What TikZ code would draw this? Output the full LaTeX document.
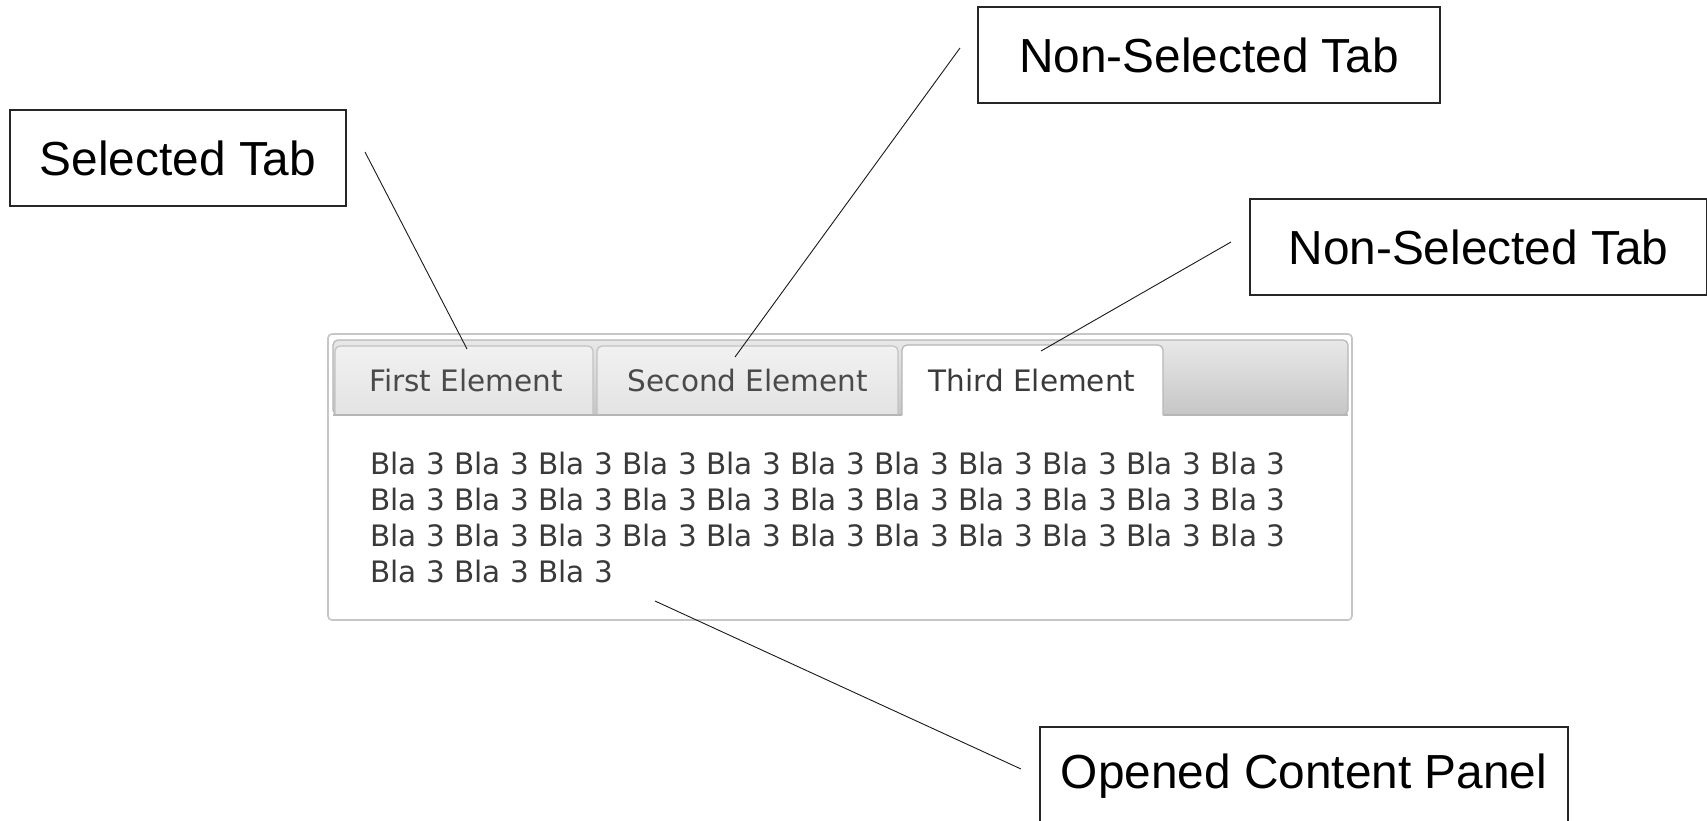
\documentclass[tikz,border=0pt]{standalone}
\usepackage{fontspec}
\setmainfont{Liberation Sans}
\newfontfamily\uifont{DejaVu Sans}
\definecolor{paneledge}{HTML}{C6C6C6}
\definecolor{bartop}{HTML}{E8E8E8}
\definecolor{barbot}{HTML}{C6C6C6}
\definecolor{baredge}{HTML}{B6B6B6}
\definecolor{tabtop}{HTML}{F1F1F1}
\definecolor{tabbot}{HTML}{E3E3E3}
\definecolor{tabedge}{HTML}{C2C2C2}
\definecolor{tabgray}{HTML}{4A4A4A}
\definecolor{bodygray}{HTML}{3A3A3A}
\begin{document}
\begin{tikzpicture}[x=1pt,y=-1pt,
  callout/.style={draw=black!85, line width=1.1pt, inner sep=0pt, font=\fontsize{47.8}{56}\selectfont, text=black},
  leader/.style={draw=black!90, line width=0.9pt},
  tabtext/.style={font=\uifont\fontsize{29.5}{36}\selectfont, text=tabgray, inner sep=0pt, anchor=base},
  bodytext/.style={font=\uifont\fontsize{29.5}{36}\selectfont, text=bodygray, inner sep=0pt, anchor=base west}]
\useasboundingbox (0,0) rectangle (1707,821);

% callout boxes
\node[callout, minimum width=336pt, minimum height=96pt] (sel) at (178,158) {Selected Tab};
\node[callout, minimum width=462pt, minimum height=96pt] (nsa) at (1209,55) {Non-Selected Tab};
\node[callout, minimum width=457pt, minimum height=96pt] (nsb) at (1478.5,247) {Non-Selected Tab};
\node[callout, minimum width=528pt, minimum height=98pt] (opn) at (1304,776) {Opened Content Panel};

% tab widget
\draw[draw=paneledge, line width=1.6pt, fill=white, rounded corners=4pt] (328,334) rectangle (1352,620);
\shade[top color=bartop, bottom color=barbot, rounded corners=5pt] (333,340) rectangle (1348,415);
\draw[baredge, line width=1.2pt, rounded corners=5pt] (333,340) rectangle (1348,415);

\shade[top color=tabtop, bottom color=tabbot, rounded corners=5pt] (335,415) -- (335,346) -- (593,346) -- (593,415);
\draw[tabedge, line width=1.2pt, rounded corners=5pt] (335,415) -- (335,346) -- (593,346) -- (593,415);
\shade[top color=tabtop, bottom color=tabbot, rounded corners=5pt] (597,415) -- (597,346) -- (898,346) -- (898,415);
\draw[tabedge, line width=1.2pt, rounded corners=5pt] (597,415) -- (597,346) -- (898,346) -- (898,415);
\draw[baredge, line width=1.2pt] (333,415) -- (1348,415);

\fill[white, rounded corners=5pt] (902,418) -- (902,345) -- (1163,345) -- (1163,418);
\draw[baredge, line width=1.2pt, rounded corners=5pt] (902,415) -- (902,345) -- (1163,345) -- (1163,415);

\node[tabtext] (t1) at (466,391) {First Element};
\node[tabtext] (t2) at (748,391) {Second Element};
\node[tabtext, text=bodygray] (t3) at (1032,391) {Third Element};

\node[bodytext] (b1) at (370,474) {Bla 3 Bla 3 Bla 3 Bla 3 Bla 3 Bla 3 Bla 3 Bla 3 Bla 3 Bla 3 Bla 3};
\node[bodytext] (b2) at (370,510) {Bla 3 Bla 3 Bla 3 Bla 3 Bla 3 Bla 3 Bla 3 Bla 3 Bla 3 Bla 3 Bla 3};
\node[bodytext] (b3) at (370,546) {Bla 3 Bla 3 Bla 3 Bla 3 Bla 3 Bla 3 Bla 3 Bla 3 Bla 3 Bla 3 Bla 3};
\node[bodytext] (b4) at (370,582) {Bla 3 Bla 3 Bla 3};

% leader lines
\coordinate (l1a) at (365,152); \coordinate (l1b) at (467,349);
\coordinate (l2a) at (960,48);  \coordinate (l2b) at (735,357);
\coordinate (l3a) at (1231,242); \coordinate (l3b) at (1041,351);
\coordinate (l4a) at (655,601); \coordinate (l4b) at (1021,769);
\draw[leader] (l1a) -- (l1b);
\draw[leader] (l2a) -- (l2b);
\draw[leader] (l3a) -- (l3b);
\draw[leader] (l4a) -- (l4b);
\end{tikzpicture}
\end{document}
